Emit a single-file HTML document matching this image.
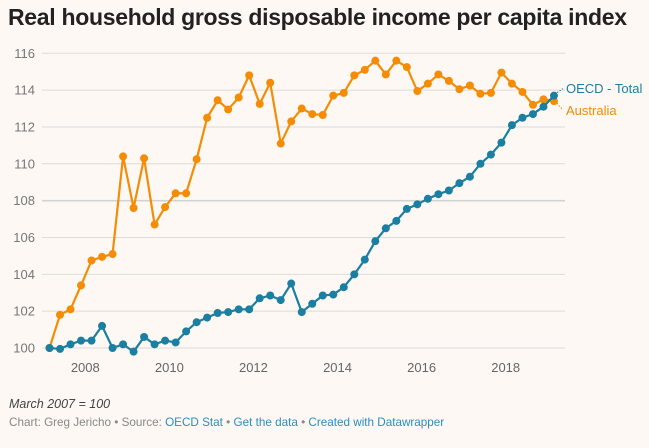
<!DOCTYPE html>
<html><head><meta charset="utf-8">
<style>
body{margin:0;background:#fdf8f3;width:649px;height:448px;overflow:hidden;font-family:"Liberation Sans",sans-serif;}
#title{position:absolute;left:8px;top:4px;font-size:23px;font-weight:bold;color:#222;letter-spacing:-0.3px;margin:0;white-space:nowrap;}
#note{position:absolute;left:9px;top:397px;font-size:12.5px;font-style:italic;color:#444;}
#credits{position:absolute;left:9px;top:416px;font-size:11.7px;color:#888;white-space:nowrap;}
#credits a{color:#2a8fc1;text-decoration:none;}
svg{position:absolute;left:0;top:0;}
</style></head><body>
<h1 id="title">Real household gross disposable income per capita index</h1>
<svg id="chart" width="649" height="448"></svg>
<div id="note">March 2007 = 100</div>
<div id="credits">Chart: Greg Jericho • Source: <a href="#">OECD Stat</a> • <a href="#">Get the data</a> • <a href="#">Created with Datawrapper</a></div>
<script>
const yTicks=[100,102,104,106,108,110,112,114,116];
const xTickYears=[2008,2010,2012,2014,2016,2018];
const startYear=2007.125;
const oecd=[100,99.95,100.2,100.4,100.4,101.2,100.0,100.2,99.8,100.6,100.2,100.4,100.3,100.9,101.4,101.65,101.9,101.95,102.1,102.1,102.7,102.85,102.6,103.5,101.95,102.4,102.85,102.9,103.3,104.0,104.8,105.8,106.5,106.9,107.55,107.8,108.1,108.35,108.55,108.95,109.3,110.0,110.5,111.15,112.1,112.5,112.7,113.1,113.7];
const australia=[100,101.8,102.1,103.4,104.75,104.95,105.1,110.4,107.6,110.3,106.7,107.65,108.4,108.4,110.25,112.5,113.45,112.95,113.6,114.8,113.25,114.4,111.1,112.3,113.0,112.7,112.65,113.7,113.85,114.8,115.1,115.6,114.85,115.6,115.25,113.95,114.35,114.85,114.5,114.05,114.25,113.8,113.85,114.95,114.35,113.9,113.2,113.5,113.4];
const NS="http://www.w3.org/2000/svg";
const svg=document.getElementById('chart');
function y(v){return 348-(v-100)*18.42;}
function xi(i){return 49.5+i*10.51;}
function xy(yr){return 49.5+(yr-startYear)*4*10.51;}
function mk(t,a){const e=document.createElementNS(NS,t);for(const k in a)e.setAttribute(k,a[k]);svg.appendChild(e);return e;}
yTicks.forEach(v=>{
  const l=mk('line',{x1:42,x2:565,y1:y(v),y2:y(v),stroke:v===108?'#d2d2d2':'#dcdcdc','stroke-width':v===108?1.6:1});
  
  
  const t=mk('text',{x:35,y:y(v)+4.5,'text-anchor':'end','font-size':13,fill:'#777','font-family':'Liberation Sans, sans-serif'});
  t.textContent=v;
  
  
});
xTickYears.forEach(yr=>{
  const t=mk('text',{x:xy(yr)-1,y:372,'text-anchor':'middle','font-size':13,fill:'#666','font-family':'Liberation Sans, sans-serif'});
  t.textContent=yr;
  
  
});
function series(data,color,name){
  const p=mk('polyline',{points:data.map((v,i)=>xi(i)+','+y(v)).join(' '),fill:'none',stroke:color,'stroke-width':2.2,'stroke-linejoin':'round'});
  
  
  data.forEach((v,i)=>{
    const c=mk('circle',{cx:xi(i),cy:y(v),r:4,fill:color});
    
    
  });
}
series(australia,'#f48c06','australia');
series(oecd,'#1a7fa0','oecd');
const lo=oecd[oecd.length-1],la=australia[australia.length-1],lx=xi(oecd.length-1);
mk('line',{x1:lx+3,y1:y(lo)-3,x2:lx+9,y2:y(lo)-7,stroke:'#1a7fa0','stroke-dasharray':'1.5,1.5'});
mk('line',{x1:lx+3,y1:y(la)+2,x2:lx+9,y2:y(la)+9,stroke:'#f48c06','stroke-dasharray':'1.5,1.5'});
const t1=mk('text',{x:566,y:93,'font-size':13,fill:'#1a7fa0','font-family':'Liberation Sans, sans-serif'});
t1.textContent='OECD - Total';


const t2=mk('text',{x:566,y:115,'font-size':13,fill:'#f48c06','font-family':'Liberation Sans, sans-serif'});
t2.textContent='Australia';


</script>
</body></html>
